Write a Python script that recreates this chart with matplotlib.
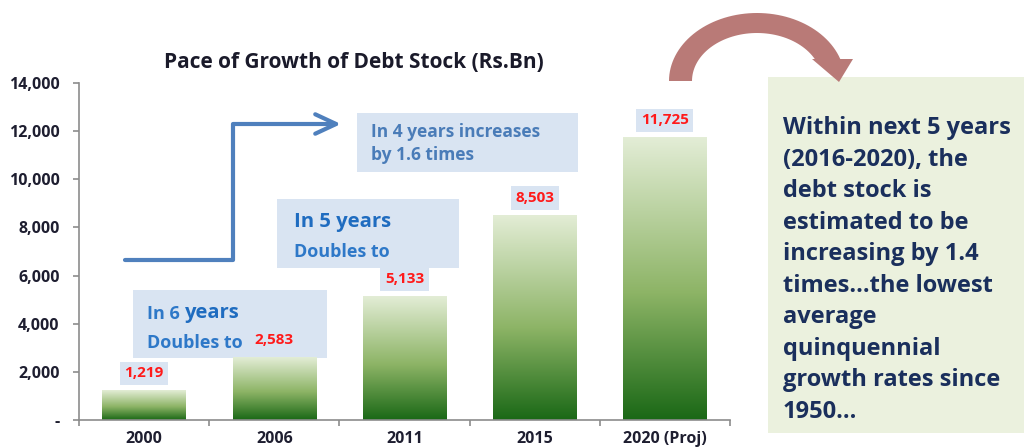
import numpy as np
import matplotlib
matplotlib.use("Agg")
import matplotlib.pyplot as plt
from matplotlib.colors import LinearSegmentedColormap
from matplotlib.patches import Rectangle, Polygon, FancyArrowPatch
from matplotlib.path import Path
from matplotlib.ticker import FuncFormatter, FixedLocator

plt.rcParams['font.family'] = ['Open Sans', 'DejaVu Sans']

# data
years = ["2000", "2006", "2011", "2015", "2020 (Proj)"]
debt_stock = [1219, 2583, 5133, 8503, 11725]
title = "Pace of Growth of Debt Stock (Rs.Bn)"
note_text = ("Within next 5 years\n(2016-2020), the\ndebt stock is\nestimated to be\n"
             "increasing by 1.4\ntimes...the lowest\naverage\nquinquennial\n"
             "growth rates since\n1950...")

W, H = 1024, 448
fig = plt.figure(figsize=(W / 100, H / 100), dpi=100)


def fx(x):
    return x / W


def fy(y):
    return 1 - y / H


ax = fig.add_axes([fx(79), fy(420), fx(730) - fx(79), fy(83) - fy(420)])
ax.patch.set_visible(False)

# gradient bars (pale at top, dark green at bottom)
grad = LinearSegmentedColormap.from_list(
    "g", [(0, "#1a6816"), (0.45, "#8db466"), (1, "#e3edd6")])
bar_w = 0.64
x = np.arange(len(years))
bars = ax.bar(x, debt_stock, width=bar_w, color="none", edgecolor="none")
g = np.linspace(0, 1, 256).reshape(-1, 1)
for b in bars:
    x0, h = b.get_x(), b.get_height()
    ax.imshow(g, cmap=grad, extent=[x0, x0 + bar_w, 0, h], origin="lower",
              aspect="auto", zorder=2)

ax.set_xlim(-0.5, len(years) - 0.5)
ax.set_ylim(0, 14000)

for s in ["top", "right"]:
    ax.spines[s].set_visible(False)
for s in ["left", "bottom"]:
    ax.spines[s].set_color("#8c8c8c")
    ax.spines[s].set_linewidth(1.2)

ax.set_xticks(x)
ax.set_xticklabels(years)
ax.xaxis.set_minor_locator(FixedLocator(np.arange(-0.5, len(years), 1)))
ax.tick_params(axis="x", which="major", length=0, pad=8, labelsize=11.5,
               labelcolor="#1e1e30")
ax.tick_params(axis="x", which="minor", length=4, color="#8c8c8c", width=1.2)
ax.set_yticks(np.arange(0, 14001, 2000))
ax.yaxis.set_major_formatter(FuncFormatter(lambda v, p: "-" if v == 0 else f"{int(v):,}"))
ax.tick_params(axis="y", length=4, color="#8c8c8c", width=1.2, pad=10,
               labelsize=11.5, labelcolor="#1e1e30")
for lab in ax.get_xticklabels() + ax.get_yticklabels():
    lab.set_fontweight("bold")

fig.text(fx(354), fy(62), title, ha="center", va="center", fontsize=15,
         fontweight="bold", color="#1a1a2a")

box_c = "#d9e4f2"

# annotation boxes
for (x0, y0, x1, y1) in [(133, 290, 327, 358), (277, 199, 459, 268), (357, 113, 578, 172)]:
    fig.add_artist(Rectangle((fx(x0), fy(y1)), fx(x1) - fx(x0), fy(y0) - fy(y1),
                             transform=fig.transFigure, fc=box_c, ec="none", zorder=0))

# value labels
for i, v in enumerate(debt_stock):
    ax.annotate(f"{v:,}", xy=(i, v), xytext=(0, 12.5), textcoords="offset points",
                ha="center", va="center", color="#ff1a1a", fontsize=11,
                fontweight="bold", zorder=5,
                bbox=dict(boxstyle="square,pad=0.3", fc=box_c, ec="none"))

blue1 = "#2e78c8"
blue2 = "#4a7cb8"
t1 = fig.text(fx(147), fy(319), "In 6 ", fontsize=13, color=blue1, fontweight="bold",
              va="baseline")
ax.annotate("years", xy=(1, 0), xycoords=t1, fontsize=14.5, color="#1f6cc0",
            fontweight="bold", va="bottom", ha="left", annotation_clip=False)
fig.text(fx(147), fy(348), "Doubles to", fontsize=13, color=blue1, fontweight="bold",
         va="baseline")
fig.text(fx(294), fy(227), "In 5 years", fontsize=14.6, color="#1f6cc0", fontweight="bold",
         va="baseline")
fig.text(fx(294), fy(257), "Doubles to", fontsize=13, color=blue1, fontweight="bold",
         va="baseline")
fig.text(fx(371), fy(137), "In 4 years increases", fontsize=12.5, color=blue2,
         fontweight="bold", va="baseline")
fig.text(fx(371), fy(160), "by 1.6 times", fontsize=12.5, color=blue2,
         fontweight="bold", va="baseline")

# stepped blue arrow
step = Path([(fx(125), fy(260)), (fx(233), fy(260)), (fx(233), fy(124)), (fx(341), fy(124))])
fig.add_artist(FancyArrowPatch(path=step, arrowstyle="->,head_length=1.5,head_width=0.7",
                               mutation_scale=10, lw=3, color="#4f80bd",
                               transform=fig.transFigure, joinstyle="round",
                               capstyle="round"))

# right note box
fig.add_artist(Rectangle((fx(768), fy(433)), fx(1024) - fx(768), fy(77) - fy(433),
                         transform=fig.transFigure, fc="#ebf1de", ec="none", zorder=0))
fig.text(fx(783), fy(116), note_text, fontsize=17, color="#1a2f5c", fontweight="bold",
         va="top", ha="left", linespacing=1.42)

# curved arrow
cx, cy = 757, 81
t_out = np.linspace(np.pi, np.arcsin(22 / 68), 60)
t_in = np.linspace(np.arcsin(22 / 48), np.pi, 60)
pts = [(cx + 88 * np.cos(t), cy - 68 * np.sin(t)) for t in t_out]
pts += [(853, 59), (839, 82), (812, 59)]
pts += [(cx + 65 * np.cos(t), cy - 48 * np.sin(t)) for t in t_in]
fig.add_artist(Polygon([(fx(a), fy(b)) for a, b in pts], closed=True,
                       transform=fig.transFigure, fc="#b97a77", ec="none"))

fig.savefig("out.png", dpi=100)
